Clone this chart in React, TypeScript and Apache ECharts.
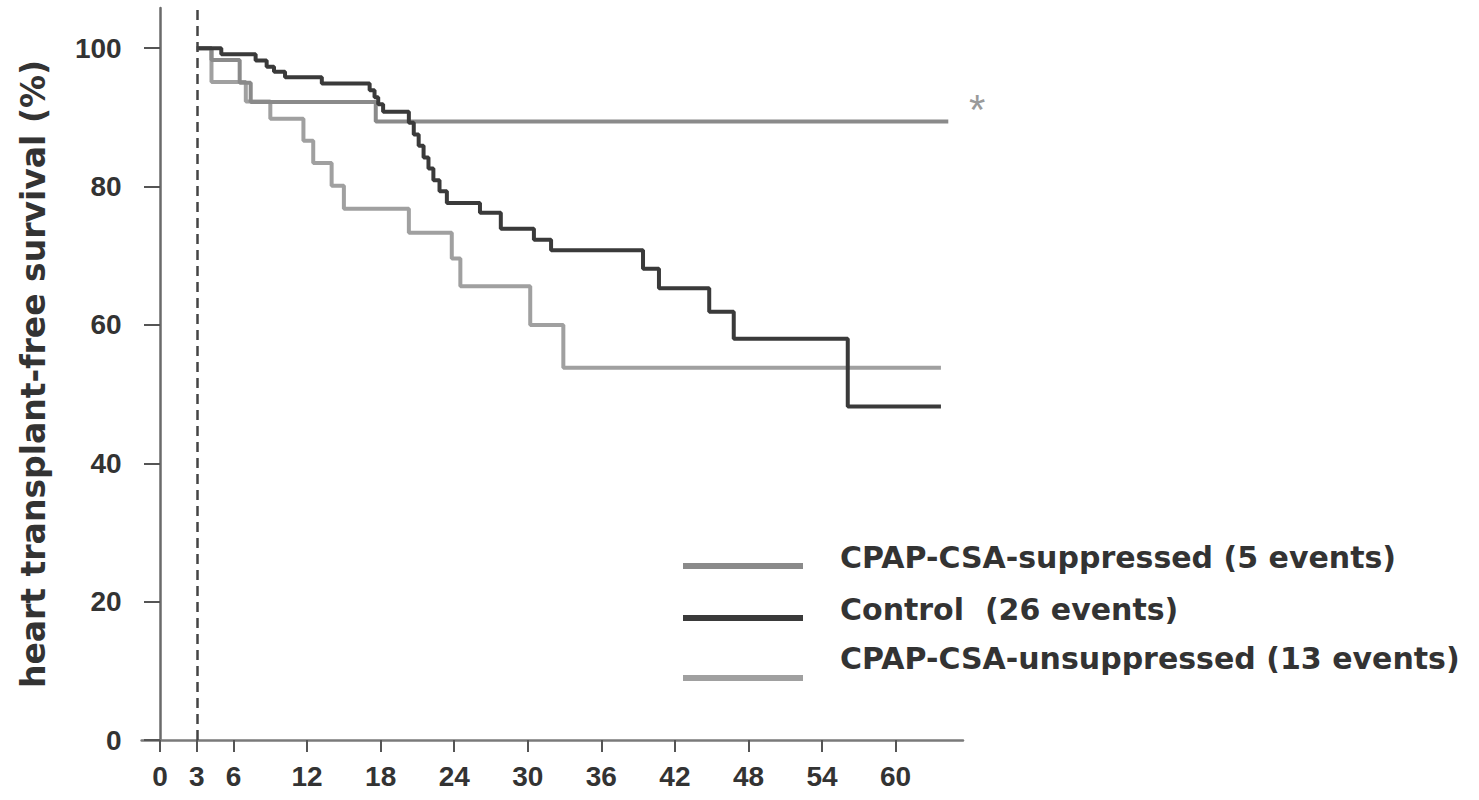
import React, { useEffect, useRef } from 'react';
import * as echarts from 'echarts';

// Tick values
const xTicks = [0, 3, 6, 12, 18, 24, 30, 36, 42, 48, 54, 60];
const yTicks = [0, 20, 40, 60, 80, 100];

// Series names
const nameSuppressed = 'CPAP-CSA-suppressed (5 events)';
const nameControl = 'Control  (26 events)';
const nameUnsuppressed = 'CPAP-CSA-unsuppressed (13 events)';

// Kaplan-Meier steps: month at which the estimate changes, and value (%) from then on
const suppressedMonths = [3, 4.2, 6.5, 7.4, 17.6, 64.3];
const suppressedSurvival = [100, 98.3, 95.0, 92.2, 89.4, 89.4];

const controlMonths = [3, 5.0, 7.8, 8.7, 9.3, 10.2, 13.2, 17.1, 17.5, 17.8, 18.2, 20.3, 20.7, 21.1, 21.5, 21.9, 22.3, 22.8, 23.4, 26.1, 27.8, 30.5, 31.9, 39.4, 40.7, 44.8, 46.8, 56.1, 63.7];
const controlSurvival = [100, 99.1, 98.2, 97.3, 96.6, 95.8, 94.9, 93.9, 92.9, 91.9, 90.8, 89.2, 87.5, 85.9, 84.2, 82.6, 80.9, 79.3, 77.6, 76.2, 73.9, 72.3, 70.8, 68.1, 65.3, 61.9, 58.0, 48.2, 48.2];

const unsuppressedMonths = [3, 4.2, 7.0, 9.0, 11.7, 12.5, 14.0, 15.0, 20.3, 23.8, 24.5, 30.2, 32.9, 63.7];
const unsuppressedSurvival = [100, 95.1, 92.3, 89.8, 86.6, 83.4, 80.1, 76.8, 73.3, 69.6, 65.6, 60.0, 53.8, 53.8];

const landmarkMonth = 3;
const yTitle = 'heart transplant-free survival (%)';

const zip = (xs: number[], ys: number[]) => xs.map((x, i) => [x, ys[i]]);

const textColor = '#333333';
const wideFont = 'DejaVu Sans';
const colSuppressed = '#8a8a8a';
const colControl = '#3a3a3a';
const colUnsuppressed = '#a0a0a0';

function legendEntry(name: string, color: string, lineY: number, textY: number) {
  return {
    type: 'group',
    children: [
      {
        type: 'line',
        shape: { x1: 683, y1: lineY, x2: 803, y2: lineY },
        style: { stroke: color, lineWidth: 6 },
      },
      {
        type: 'text',
        x: 840,
        y: textY,
        style: {
          text: name,
          fontSize: 30,
          fontWeight: 'bold',
          fontFamily: wideFont,
          fill: textColor,
          verticalAlign: 'middle',
          align: 'left',
        },
      },
    ],
  };
}

export default function App() {
  const ref = useRef<HTMLDivElement>(null);
  useEffect(() => {
    const chart = echarts.init(ref.current!, null, { renderer: 'svg' });
    const lineSeries = (name: string, data: number[][], color: string, width: number, extra: any = {}) => ({
      name,
      type: 'line',
      step: 'end',
      data,
      symbol: 'none',
      color,
      lineStyle: { color, width },
      ...extra,
    });
    chart.setOption({
      animation: false,
      backgroundColor: '#ffffff',
      grid: { left: 141.6, right: 516, top: 8, bottom: 60, outerBoundsMode: 'none' },
      xAxis: {
        type: 'value',
        min: -1.5,
        max: 65.5,
        axisLine: { onZero: false, lineStyle: { color: '#7a7a7a', width: 2.5 } },
        axisTick: { show: true, customValues: xTicks, length: 12, lineStyle: { color: '#555', width: 2 } },
        axisLabel: {
          customValues: xTicks,
          margin: 22,
          fontSize: 28,
          fontWeight: 'bold',
          fontFamily: 'Liberation Sans',
          color: textColor,
        },
        splitLine: { show: false },
      },
      yAxis: {
        type: 'value',
        min: 0,
        max: 105.8,
        axisLine: { show: true, onZero: true, lineStyle: { color: '#6a6a6a', width: 2.5 } },
        axisTick: { show: true, customValues: yTicks, length: 16, lineStyle: { color: '#555', width: 2 } },
        axisLabel: {
          customValues: yTicks,
          margin: 20,
          fontSize: 28,
          fontWeight: 'bold',
          fontFamily: 'Liberation Sans',
          color: textColor,
        },
        splitLine: { show: false },
        name: yTitle,
        nameLocation: 'middle',
        nameGap: 92,
        nameTextStyle: {
          fontSize: 33,
          fontWeight: 'bold',
          fontFamily: wideFont,
          color: textColor,
        },
      },
      graphic: [
        {
          type: 'text',
          left: 969,
          top: 88,
          style: { text: '*', fontSize: 42, fill: '#9a9a9a', fontFamily: 'Liberation Sans' },
        },
        legendEntry(nameSuppressed, colSuppressed, 566, 557),
        legendEntry(nameControl, colControl, 618, 609),
        legendEntry(nameUnsuppressed, colUnsuppressed, 678, 658),
      ],
      series: [
        lineSeries(nameUnsuppressed, zip(unsuppressedMonths, unsuppressedSurvival), colUnsuppressed, 4),
        lineSeries(nameSuppressed, zip(suppressedMonths, suppressedSurvival), colSuppressed, 4),
        lineSeries(nameControl, zip(controlMonths, controlSurvival), colControl, 4, {
          markLine: {
            silent: true,
            symbol: 'none',
            label: { show: false },
            lineStyle: { type: [10, 6], color: '#444', width: 2.5 },
            data: [{ xAxis: landmarkMonth }],
          },
        }),
      ],
    });
    return () => chart.dispose();
  }, []);
  return (
    <div
      ref={ref}
      style={{ position: 'fixed', left: 0, top: 0, width: 1479, height: 800, background: '#fff' }}
    />
  );
}
